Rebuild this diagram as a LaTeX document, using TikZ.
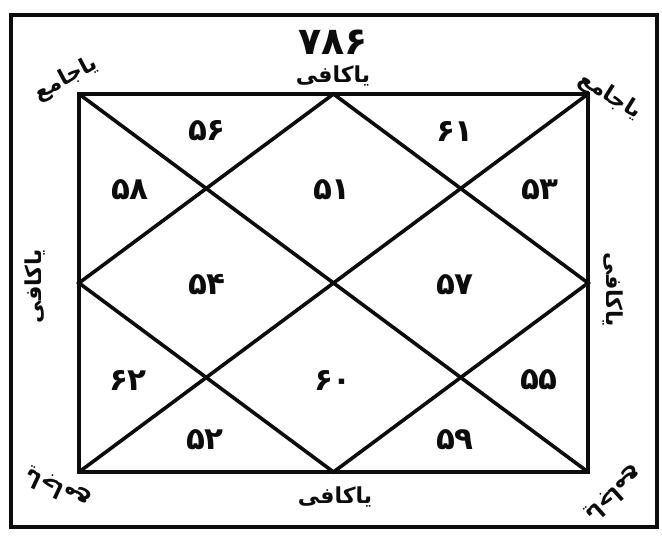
\documentclass[tikz,border=0pt]{standalone}
\usepackage{fontspec}
\usetikzlibrary{positioning,calc}
\TeXXeTstate=1
\newfontfamily\urdufont[Script=Arabic]{DejaVu Sans}
\definecolor{ink}{RGB}{12,12,12}
\tikzset{
  outerbox/.style={draw=ink,line width=4.5pt},
  lattice/.style={draw=ink,line width=3.6pt,line cap=round},
  num/.style={font=\urdufont\bfseries\fontsize{31}{31}\selectfont,text=ink,inner sep=0pt},
  head/.style={font=\urdufont\bfseries\fontsize{38}{38}\selectfont,text=ink,inner sep=0pt},
  asma/.style={font=\urdufont\bfseries\fontsize{22}{22}\selectfont,text=ink,inner sep=0pt},
}
\newcommand{\rtl}[1]{\beginR #1\endR}

\begin{document}
\begin{tikzpicture}[x=1pt,y=-1pt]
\useasboundingbox (0,0) rectangle (662,544);
% outer frame
\draw[outerbox] (11,15) rectangle (657,527);

% corners and midpoints of the inner square
\coordinate (tl) at (79,94);
\coordinate (tr) at (588,94);
\coordinate (bl) at (79,472);
\coordinate (br) at (588,472);
\coordinate (tm) at ($(tl)!0.5!(tr)$);
\coordinate (bm) at ($(bl)!0.5!(br)$);
\coordinate (lm) at ($(tl)!0.5!(bl)$);
\coordinate (rm) at ($(tr)!0.5!(br)$);

% inner square, diagonals, diamond
\draw[lattice] (tl) -- (tr) -- (br) -- (bl) -- cycle;
\draw[lattice] (tl) -- (br);
\draw[lattice] (tr) -- (bl);
\draw[lattice] (tm) -- (rm) -- (bm) -- (lm) -- cycle;

% numbers
\node[num] (n56) at (207,131) {۵۶};
\node[num] (n61) at (455,131) {۶۱};
\node[num] (n58) at (130,190) {۵۸};
\node[num] (n51) at (332,190) {۵۱};
\node[num] (n53) at (540,190) {۵۳};
\node[num] (n54) at (207,285) {۵۴};
\node[num] (n57) at (455,285) {۵۷};
\node[num] (n62) at (128,380) {۶۲};
\node[num] (n60) at (333,380) {۶۰};
\node[num] (n55) at (539,380) {۵۵};
\node[num] (n52) at (205,440) {۵۲};
\node[num] (n59) at (455,440) {۵۹};

% names round the square
\node[head] (bism) at (333,42) {۷۸۶};
\node[asma] (kafiT) at (333,76) {\rtl{یاکافی}};
\node[asma] (kafiB) at (335,497) {\rtl{یاکافی}};
\node[asma,rotate=90] (kafiL) at (35,286) {\rtl{یاکافی}};
\node[asma,rotate=-90] (kafiR) at (613,290) {\rtl{یاکافی}};
\node[asma,rotate=28] (jamiTL) at (66,79) {\rtl{یاجامع}};
\node[asma,rotate=-32] (jamiTR) at (610,96) {\rtl{یاجامع}};
\node[asma,rotate=155] (jamiBL) at (58,488) {\rtl{یاجامع}};
\node[asma,rotate=-138] (jamiBR) at (614,494) {\rtl{یاجامع}};
\end{tikzpicture}
\end{document}
